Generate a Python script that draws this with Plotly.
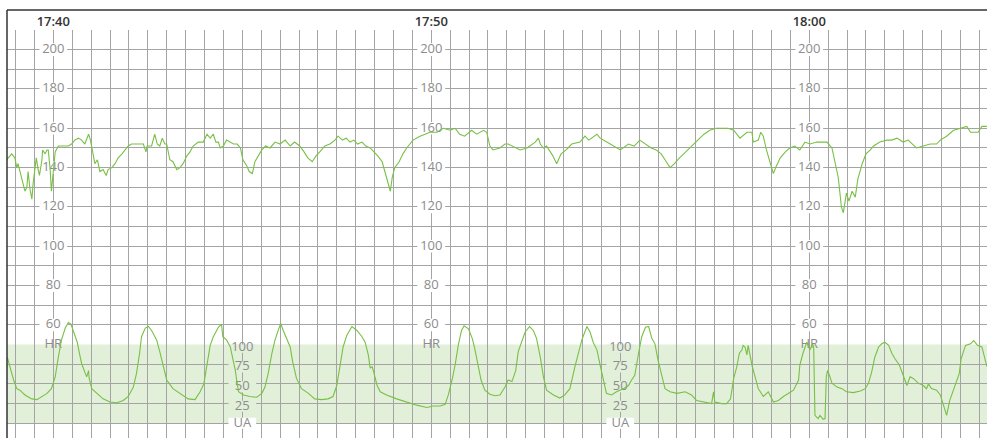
import pandas as pd
import plotly.graph_objects as go

DAY = "2024-05-14"
T0 = pd.Timestamp(f"{DAY} 17:40:00")

# Fetal heart rate: (seconds from 17:40:00, bpm)
HR_READINGS = [
    (-74, 144), (-66, 147), (-61, 145), (-58, 140), (-56, 142), (-50, 134), (-45, 128), (-42, 130),
    (-40, 138), (-37, 129), (-34, 124), (-32, 132), (-29, 141), (-27, 145), (-24, 139), (-22, 136),
    (-18, 144), (-17, 149), (-13, 147), (-10, 149), (-8, 149), (-5, 139), (-3, 128), (0, 139),
    (3, 148), (8, 151), (16, 151), (24, 151), (29, 152), (34, 154), (40, 155), (45, 154),
    (50, 152), (56, 157), (59, 154), (63, 146), (66, 142), (70, 144), (74, 138), (79, 139),
    (84, 136), (87, 139), (93, 140), (98, 142), (103, 145), (109, 147), (114, 149), (119, 151),
    (124, 152), (132, 152), (140, 152), (143, 152), (147, 148), (149, 151), (156, 151), (161, 157),
    (165, 152), (169, 151), (173, 155), (177, 152), (180, 152), (183, 147), (185, 144), (190, 143),
    (193, 141), (196, 139), (201, 140), (206, 142), (212, 146), (217, 148), (222, 151), (230, 153),
    (238, 153), (244, 157), (249, 155), (254, 157), (258, 153), (262, 153), (265, 150), (270, 151),
    (275, 154), (280, 153), (286, 152), (292, 152), (297, 150), (301, 144), (307, 141), (311, 138),
    (316, 137), (320, 143), (325, 146), (331, 149), (337, 151), (344, 150), (352, 153), (360, 152),
    (368, 154), (376, 151), (383, 153), (391, 151), (398, 148), (404, 145), (411, 143), (417, 146),
    (423, 148), (431, 151), (439, 152), (447, 154), (452, 156), (459, 154), (465, 155), (471, 153),
    (477, 154), (483, 152), (490, 153), (496, 151), (503, 150), (509, 148), (515, 146), (522, 143),
    (526, 138), (531, 132), (535, 128), (538, 135), (542, 140), (549, 143), (555, 147), (561, 150),
    (571, 154), (582, 156), (598, 158), (609, 158), (619, 160), (630, 159), (638, 160), (645, 157),
    (653, 156), (664, 159), (672, 157), (683, 159), (688, 158), (693, 151), (698, 149), (709, 150),
    (717, 152), (722, 152), (728, 151), (741, 149), (752, 150), (765, 153), (770, 155), (773, 152),
    (778, 150), (783, 151), (793, 146), (799, 142), (806, 147), (814, 149), (823, 152), (836, 153),
    (844, 156), (850, 154), (863, 157), (868, 155), (884, 152), (890, 151), (900, 149), (913, 152),
    (922, 151), (931, 154), (941, 152), (949, 150), (957, 149), (965, 147), (973, 143), (979, 140),
    (986, 142), (994, 145), (1004, 148), (1013, 151), (1023, 154), (1033, 157), (1042, 159), (1052, 160),
    (1061, 160), (1071, 160), (1080, 159), (1090, 155), (1101, 158), (1109, 158), (1111, 153), (1119, 154),
    (1123, 158), (1127, 156), (1132, 149), (1138, 143), (1143, 137), (1148, 141), (1154, 145), (1162, 148),
    (1169, 150), (1177, 151), (1185, 149), (1193, 153), (1201, 152), (1212, 153), (1220, 153), (1228, 153),
    (1236, 150), (1241, 143), (1246, 135), (1251, 120), (1254, 117), (1259, 127), (1263, 123), (1268, 128),
    (1273, 125), (1277, 134), (1284, 142), (1290, 147), (1297, 149), (1302, 151), (1312, 153), (1323, 154),
    (1331, 154), (1339, 155), (1349, 153), (1357, 154), (1363, 152), (1370, 150), (1381, 151), (1392, 152),
    (1402, 152), (1408, 154), (1418, 156), (1429, 159), (1440, 160), (1450, 161), (1456, 158), (1460, 158),
    (1468, 158), (1474, 161), (1482, 161),
]

# Uterine activity: (seconds from 17:40:00, UA units)
UA_READINGS = [
    (-73, 84), (-69, 72), (-63, 55), (-58, 44), (-53, 42), (-45, 36), (-34, 31), (-26, 30),
    (-18, 34), (-10, 38), (-3, 44), (3, 59), (8, 84), (13, 106), (19, 121), (24, 128),
    (28, 126), (33, 114), (38, 103), (42, 87), (45, 76), (50, 65), (53, 59), (56, 67),
    (57, 57), (61, 44), (69, 38), (79, 31), (90, 27), (101, 26), (111, 29), (119, 34),
    (127, 46), (132, 63), (137, 89), (140, 110), (146, 121), (151, 123), (156, 118), (164, 106),
    (169, 91), (175, 72), (180, 55), (190, 44), (204, 36), (214, 31), (225, 30), (233, 40),
    (239, 50), (244, 74), (249, 99), (254, 110), (262, 122), (267, 126), (269, 110), (275, 106),
    (281, 97), (286, 78), (289, 67), (291, 55), (294, 40), (302, 36), (312, 34), (323, 33),
    (331, 38), (336, 46), (341, 63), (347, 89), (352, 106), (357, 118), (361, 127), (365, 118),
    (370, 108), (376, 97), (380, 78), (386, 57), (394, 44), (405, 38), (415, 31), (426, 30),
    (436, 31), (444, 34), (450, 48), (455, 72), (460, 97), (466, 112), (474, 123), (482, 118),
    (490, 110), (495, 103), (500, 87), (503, 70), (506, 72), (508, 67), (514, 48), (519, 40),
    (529, 36), (545, 31), (561, 27), (577, 23), (593, 20), (603, 22), (614, 22), (622, 24),
    (627, 36), (633, 55), (638, 75), (643, 100), (648, 118), (652, 124), (659, 120), (665, 108),
    (669, 95), (674, 75), (679, 55), (685, 42), (693, 37), (701, 35), (709, 36), (717, 46),
    (722, 55), (728, 53), (734, 67), (738, 91), (744, 106), (749, 116), (756, 123), (762, 118),
    (767, 108), (773, 84), (778, 59), (783, 42), (794, 36), (804, 32), (812, 36), (820, 44),
    (828, 72), (834, 89), (839, 106), (847, 123), (852, 116), (857, 103), (863, 93), (868, 74),
    (873, 55), (878, 38), (886, 36), (894, 40), (905, 44), (913, 48), (918, 55), (923, 61),
    (929, 89), (934, 110), (940, 122), (945, 123), (950, 108), (955, 101), (960, 80), (966, 59),
    (971, 44), (979, 40), (990, 38), (1003, 40), (1013, 36), (1021, 29), (1034, 27), (1045, 25),
    (1048, 40), (1050, 27), (1061, 25), (1069, 25), (1075, 31), (1080, 57), (1085, 72), (1089, 89),
    (1093, 93), (1095, 99), (1098, 97), (1101, 87), (1103, 99), (1109, 74), (1114, 59), (1119, 44),
    (1127, 34), (1135, 40), (1143, 27), (1151, 29), (1159, 34), (1167, 38), (1175, 42), (1183, 55),
    (1185, 74), (1190, 89), (1196, 103), (1201, 93), (1205, 101), (1207, 97), (1209, 10), (1214, 6),
    (1217, 10), (1222, 5), (1225, 6), (1227, 59), (1229, 67), (1232, 61), (1236, 51), (1244, 46),
    (1252, 44), (1259, 40), (1270, 39), (1281, 41), (1289, 44), (1294, 51), (1299, 65), (1304, 84),
    (1310, 97), (1315, 101), (1320, 103), (1326, 99), (1331, 89), (1336, 82), (1343, 74), (1349, 61),
    (1355, 48), (1360, 59), (1365, 57), (1373, 51), (1381, 48), (1386, 44), (1389, 50), (1394, 44),
    (1402, 42), (1408, 36), (1416, 17), (1418, 10), (1423, 29), (1429, 42), (1434, 55), (1438, 63),
    (1441, 82), (1448, 99), (1456, 101), (1461, 105), (1467, 99), (1474, 97), (1482, 72),
]

# In-chart scale labels
HR_SCALE_TIMES = ["17:40", "17:50", "18:00"]
HR_SCALE_VALUES = [200, 180, 160, 140, 120, 100, 80, 60]
HR_SCALE_TITLE = ("HR", 50)
UA_SCALE_TIMES = ["17:45", "17:55"]
UA_SCALE_VALUES = [100, 75, 50, 25]
UA_SCALE_TITLE = ("UA", 0)

VIEW_START_S, VIEW_END_S = -73.5, 1482.1
HR_RANGE = [2.5, 210]
UA_RANGE = [-18.75, 500]  # UA 0..100 occupies the HR 10..50 band

TRACE_GREEN = "#78c045"
BAND_GREEN = "#e2efd9"
GRID = "#a4a4a4"
SCALE_TEXT = "#8c8c8c"
FONT = "Open Sans"


def at_sec(s):
    return T0 + pd.to_timedelta(s, unit="s")


def at_clock(hhmm):
    return pd.Timestamp(f"{DAY} {hhmm}:00")


def boxes(centres, half_w, half_h):
    """Closed rectangles (None-separated) around label centres, for a filled backing trace."""
    xs, ys = [], []
    for c, y in centres:
        x0, x1 = c - half_w, c + half_w
        y0, y1 = y - half_h, y + half_h
        xs += [x0, x1, x1, x0, x0, None]
        ys += [y0, y0, y1, y1, y0, None]
    return xs, ys


hr_t = [at_sec(s) for s, _ in HR_READINGS]
hr_v = [v for _, v in HR_READINGS]
ua_t = [at_sec(s) for s, _ in UA_READINGS]
ua_v = [v for _, v in UA_READINGS]

# label positions
hr_lab = []  # (time, value, text)
for hhmm in HR_SCALE_TIMES:
    c = at_clock(hhmm)
    for v in HR_SCALE_VALUES:
        hr_lab.append((c, v, str(v)))
    hr_lab.append((c, HR_SCALE_TITLE[1], HR_SCALE_TITLE[0]))

ua_lab = []
for hhmm in UA_SCALE_TIMES:
    c = at_clock(hhmm)
    for u in UA_SCALE_VALUES:
        ua_lab.append((c, u - 3.5, str(u)))
    ua_lab.append((c, UA_SCALE_TITLE[1], UA_SCALE_TITLE[0]))

half_w = pd.Timedelta(seconds=22)
fig = go.Figure()

# backing boxes that break the grid lines behind the scale numbers
bx, by = boxes([(c, v) for c, v, t in hr_lab if t != HR_SCALE_TITLE[0]], half_w, 3.2)
fig.add_trace(go.Scatter(x=bx, y=by, mode="lines", fill="toself", fillcolor="white",
                         line=dict(width=0), hoverinfo="skip", yaxis="y"))
ua_num = [(c, u) for c, u, t in ua_lab if t != UA_SCALE_TITLE[0]]
bx, by = boxes(ua_num, half_w, 7.0)
by = [None if y is None else min(y, 100) for y in by]
fig.add_trace(go.Scatter(x=bx, y=by, mode="lines", fill="toself", fillcolor=BAND_GREEN,
                         line=dict(width=0), hoverinfo="skip", yaxis="y2"))
bx, by = boxes([(c, u) for c, u, t in ua_lab if t == UA_SCALE_TITLE[0]], half_w, 7.0)
fig.add_trace(go.Scatter(x=bx, y=by, mode="lines", fill="toself", fillcolor="white",
                         line=dict(width=0), hoverinfo="skip", yaxis="y2"))

label_font = dict(family=FONT, size=13, color=SCALE_TEXT)
fig.add_trace(go.Scatter(x=[c for c, _, _ in hr_lab], y=[v for _, v, _ in hr_lab],
                         text=[t for _, _, t in hr_lab], mode="text", textfont=label_font,
                         textposition="middle center", hoverinfo="skip", yaxis="y"))
fig.add_trace(go.Scatter(x=[c for c, _, _ in ua_lab], y=[v for _, v, _ in ua_lab],
                         text=[t for _, _, t in ua_lab], mode="text", textfont=label_font,
                         textposition="middle center", hoverinfo="skip", yaxis="y2"))

# the two tracings
fig.add_trace(go.Scatter(x=ua_t, y=ua_v, mode="lines", name="UA", yaxis="y2",
                         line=dict(color=TRACE_GREEN, width=1.1)))
fig.add_trace(go.Scatter(x=hr_t, y=hr_v, mode="lines", name="FHR", yaxis="y",
                         line=dict(color=TRACE_GREEN, width=1.1)))

shapes = [
    # UA band
    dict(type="rect", xref="paper", yref="y2", x0=0, x1=1, y0=0, y1=100,
         fillcolor=BAND_GREEN, line=dict(width=0), layer="below"),
    # chart frame: header rule and left edge
    dict(type="line", xref="paper", yref="paper", x0=0, x1=1, y0=1.049, y1=1.049,
         line=dict(color="#333333", width=1.5)),
    dict(type="line", xref="paper", yref="paper", x0=0, x1=0, y0=0, y1=1.049,
         line=dict(color="#333333", width=1.5)),
]

fig.update_layout(
    width=987, height=438,
    margin=dict(l=7, r=0, t=30, b=0),
    paper_bgcolor="white", plot_bgcolor="white",
    showlegend=False,
    shapes=shapes,
    font=dict(family=FONT),
    xaxis=dict(
        type="date", side="top",
        range=[at_sec(VIEW_START_S), at_sec(VIEW_END_S)],
        tick0=T0, dtick=600000, tickformat="%H:%M",
        tickfont=dict(family=FONT, size=13, color="#333333", weight=600),
        ticks="", showline=False, zeroline=False,
        showgrid=True, gridcolor=GRID, gridwidth=1.2,
        minor=dict(tick0=T0, dtick=30000, showgrid=True, gridcolor=GRID, gridwidth=1.2),
    ),
    yaxis=dict(
        range=HR_RANGE, tickmode="array",
        tickvals=[v for v in range(10, 211, 10) if v != 50],
        showticklabels=False, ticks="", zeroline=False, showline=False,
        showgrid=True, gridcolor=GRID, gridwidth=1.2,
    ),
    yaxis2=dict(range=UA_RANGE, overlaying="y", visible=False, showgrid=False),
)

fig.write_html("out.html")
